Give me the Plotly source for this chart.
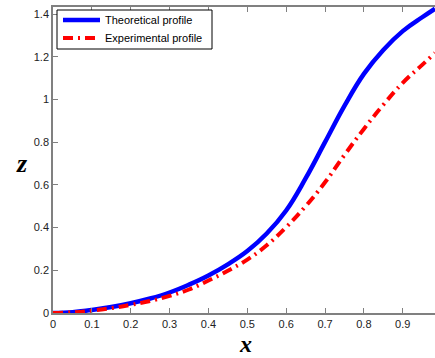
import plotly.graph_objects as go

x_vals = [0, 0.05, 0.1, 0.15, 0.2, 0.25, 0.3, 0.35, 0.4, 0.45, 0.5, 0.55, 0.6, 0.65, 0.7, 0.75, 0.8, 0.85, 0.9, 0.95, 0.983]
z_theoretical = [0, 0.004, 0.014, 0.028, 0.046, 0.068, 0.096, 0.133, 0.176, 0.228, 0.29, 0.372, 0.48, 0.63, 0.80, 0.97, 1.12, 1.232, 1.32, 1.385, 1.425]
z_experimental = [0, 0.003, 0.011, 0.023, 0.038, 0.056, 0.08, 0.11, 0.152, 0.198, 0.25, 0.317, 0.402, 0.5, 0.612, 0.74, 0.862, 0.975, 1.078, 1.162, 1.218]

series_names = ["Theoretical profile", "Experimental profile"]
x_ticks = [0, 0.1, 0.2, 0.3, 0.4, 0.5, 0.6, 0.7, 0.8, 0.9]
y_ticks = [0, 0.2, 0.4, 0.6, 0.8, 1, 1.2, 1.4]

blue = "#0000ff"
red = "#ff0000"
red_dash = "10px,5px,2px,5px"

fig = go.Figure()
fig.add_trace(go.Scatter(x=x_vals, y=z_theoretical, mode="lines", name=series_names[0],
                         line=dict(color=blue, width=4.5, shape="spline", smoothing=1.2)))
fig.add_trace(go.Scatter(x=x_vals, y=z_experimental, mode="lines", name=series_names[1],
                         line=dict(color=red, width=4, shape="spline", smoothing=1.2, dash=red_dash)))

axis_font = dict(family="Liberation Sans, Arial, sans-serif", size=11, color="#222222")
title_font = dict(family="Liberation Serif, Times New Roman, serif", size=24, color="#000000")
ztitle_font = dict(family="Liberation Serif, Times New Roman, serif", size=26, color="#000000")
legend_font = dict(family="Liberation Sans, Arial, sans-serif", size=11, color="#000000")

# manual legend (plot area is 382 x 306 px; origin at left=53, top=7)
W, H = 382.0, 306.0
def px(xp):
    return (xp - 53) / W
def py(yp):
    return (313 - yp) / H

shapes = [
    dict(type="rect", xref="paper", yref="paper", x0=px(57), x1=px(212), y0=py(49), y1=py(10),
         line=dict(color="#000000", width=1), fillcolor="white", layer="above"),
    dict(type="line", xref="paper", yref="paper", x0=px(63), x1=px(100), y0=py(20), y1=py(20),
         line=dict(color=blue, width=4.5), layer="above"),
    dict(type="line", xref="paper", yref="paper", x0=px(63), x1=px(100), y0=py(38), y1=py(38),
         line=dict(color=red, width=4, dash=red_dash), layer="above"),
]
annotations = [
    dict(text=series_names[0], xref="paper", yref="paper", x=px(103), y=py(20),
         xanchor="left", yanchor="middle", showarrow=False, font=legend_font),
    dict(text=series_names[1], xref="paper", yref="paper", x=px(103), y=py(38),
         xanchor="left", yanchor="middle", showarrow=False, font=legend_font),
    dict(text="<b><i>x</i></b>", xref="paper", yref="paper", x=px(245), y=py(357.5),
         xanchor="center", yanchor="bottom", showarrow=False, font=title_font, borderpad=0),
    dict(text="<b><i>z</i></b>", xref="paper", yref="paper", x=px(22), y=py(163),
         xanchor="center", yanchor="middle", showarrow=False, font=ztitle_font),
]

fig.update_layout(
    width=435, height=358,
    margin=dict(l=53, r=0, t=7, b=45),
    paper_bgcolor="white", plot_bgcolor="white",
    showlegend=False,
    shapes=shapes, annotations=annotations,
    xaxis=dict(range=[0, 0.983], tickvals=x_ticks, ticktext=[("%g" % v) for v in x_ticks],
               ticks="inside", ticklen=5, tickcolor="#808080", tickwidth=1,
               showline=True, linecolor="#808080", linewidth=1.5, mirror="ticks",
               showgrid=False, zeroline=False, tickfont=axis_font),
    yaxis=dict(range=[0, 1.433], tickvals=y_ticks, ticktext=[("%g" % v) for v in y_ticks],
               ticks="inside", ticklen=5, tickcolor="#808080", tickwidth=1,
               showline=True, linecolor="#808080", linewidth=1.5, mirror=False,
               showgrid=False, zeroline=False, tickfont=axis_font),
)

fig.write_html("out.html")
